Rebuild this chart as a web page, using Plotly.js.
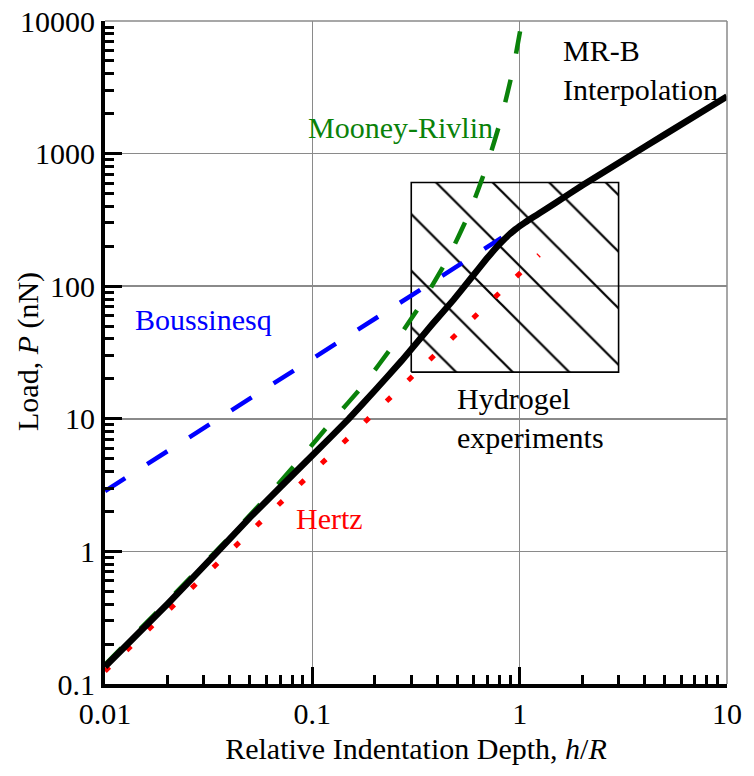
<!DOCTYPE html>
<html>
<head>
<meta charset="utf-8">
<script src="https://cdn.plot.ly/plotly-3.0.1.min.js"></script>
<style>
  html, body { margin: 0; padding: 0; background: #fff; }
  #chart { width: 754px; height: 776px; }
</style>
</head>
<body>
<div id="chart"></div>
<script>
// ---- data ----
// MR-B interpolation (black solid)
const mrbH = [0.01, 0.02, 0.035, 0.05, 0.1, 0.15, 0.2, 0.27, 0.38, 0.48, 0.58, 0.69, 0.75, 0.8, 0.85, 0.9, 0.95, 1.0, 1.05, 1.1, 1.17, 1.25, 1.5, 2.0, 3.4, 5.0, 10];
const mrbP = [0.135, 0.4, 1.0, 1.8, 5.3, 10, 16.3, 27.5, 52, 79, 114, 160, 186, 208, 229, 249, 267, 284, 299, 314, 334, 356, 428, 575, 960, 1390, 2700];
// Mooney-Rivlin (green dashed)
const mrH = [0.01, 0.02, 0.0387, 0.0614, 0.088, 0.125, 0.178, 0.249, 0.34, 0.45, 0.572, 0.693, 0.817, 0.93, 1.025];
const mrP = [0.14, 0.42, 1.22, 2.66, 5.04, 9.68, 18.3, 37.1, 76.4, 162, 358, 806, 1878, 4370, 10000];
// Hertz (red dotted)
const hzH = [0.01, 0.03, 0.1, 0.3, 1.0, 1.24];
const hzP = [0.125, 0.65, 3.95, 20.5, 125, 172];
// Boussinesq (blue dashed)
const bsH = [0.01, 0.1, 0.82];
const bsP = [2.85, 28.5, 232];
// Hydrogel experiments box (h range, P range)
const boxH = [0.3, 3];
const boxP = [22.5, 605];
// ticks
const xTickVals = [0.01, 0.1, 1, 10];
const xTickText = ["0.01", "0.1", "1", "10"];
const yTickVals = [0.1, 1, 10, 100, 1000, 10000];
const yTickText = ["0.1", "1", "10", "100", "1000", "10000"];

const FONT = "Times New Roman";

const traces = [
  {
    x: [boxH[0], boxH[1], boxH[1], boxH[0], boxH[0]],
    y: [boxP[0], boxP[0], boxP[1], boxP[1], boxP[0]],
    mode: "lines", fill: "toself",
    fillcolor: "rgba(0,0,0,0)",
    fillpattern: { shape: "\\", size: 40, solidity: 0.055, fgcolor: "#000", bgcolor: "rgba(255,255,255,0)" },
    line: { color: "#000", width: 1.6 },
    hoverinfo: "skip"
  },
  { x: hzH, y: hzP, mode: "lines", line: { color: "#ff0000", width: 5, dash: "6px,24px" } },
  { x: bsH, y: bsP, mode: "lines", line: { color: "#0000ff", width: 4.5, dash: "24px,26px" } },
  { x: mrH, y: mrP, mode: "lines", line: { color: "#0a820a", width: 4.5, dash: "23px,27px", shape: "spline", smoothing: 0.5 } },
  { x: mrbH, y: mrbP, mode: "lines", line: { color: "#000", width: 6.5, shape: "spline", smoothing: 0.3 } }
];

function px2x(px) { return (px - 105) / 622; }
function py2y(py) { return (684 - py) / 663; }

const axisCommon = {
  type: "log",
  ticks: "inside", ticklen: 17, tickwidth: 3, tickcolor: "#000",
  showline: true, linewidth: 4, linecolor: "#000",
  showgrid: true, gridcolor: "#8a8a8a", gridwidth: 1.5,
  zeroline: false,
  tickfont: { family: FONT, size: 30, color: "#000" },
  minor: { ticks: "inside", ticklen: 9, tickwidth: 3, tickcolor: "#000", showgrid: false, dtick: "D1" },
  tickmode: "array"
};

const layout = {
  width: 754, height: 776,
  margin: { l: 105, r: 27, t: 21, b: 92 },
  paper_bgcolor: "#fff", plot_bgcolor: "#fff",
  showlegend: false,
  font: { family: FONT, size: 30, color: "#000" },
  xaxis: Object.assign({}, axisCommon, {
    range: [-2, 1],
    tickvals: xTickVals, ticktext: xTickText,
    title: { text: "Relative Indentation Depth, <i>h</i>/<i>R</i>", font: { family: FONT, size: 30, color: "#000" }, standoff: 10 }
  }),
  yaxis: Object.assign({}, axisCommon, {
    range: [-1, 4],
    tickvals: yTickVals, ticktext: yTickText
  }),
  shapes: [
    { type: "line", xref: "paper", yref: "paper", x0: 0, x1: 1, y0: 1, y1: 1, line: { color: "#8a8a8a", width: 1.5 } },
    { type: "line", xref: "paper", yref: "paper", x0: 1, x1: 1, y0: 0, y1: 1, line: { color: "#8a8a8a", width: 1.5 } }
  ],
  annotations: [
    { text: "Load, <i>P</i> (nN)", xref: "paper", yref: "paper", x: px2x(28), y: py2y(352), xanchor: "center", yanchor: "middle", textangle: -90, showarrow: false, borderpad: 0, font: { family: FONT, size: 30, color: "#000" } },
    { text: "MR-B<br>Interpolation", xref: "paper", yref: "paper", x: px2x(562), y: py2y(70), xanchor: "left", yanchor: "middle", align: "left", showarrow: false, borderpad: 0, font: { family: FONT, size: 30, color: "#000" } },
    { text: "Mooney-Rivlin", xref: "paper", yref: "paper", x: px2x(400.5), y: py2y(128), xanchor: "center", yanchor: "middle", showarrow: false, borderpad: 0, font: { family: FONT, size: 30, color: "#0a820a" } },
    { text: "Boussinesq", xref: "paper", yref: "paper", x: px2x(203), y: py2y(319), xanchor: "center", yanchor: "middle", showarrow: false, borderpad: 0, font: { family: FONT, size: 30, color: "#0000ff" } },
    { text: "Hertz", xref: "paper", yref: "paper", x: px2x(329), y: py2y(518), xanchor: "center", yanchor: "middle", showarrow: false, borderpad: 0, font: { family: FONT, size: 30, color: "#ff0000" } },
    { text: "Hydrogel<br>experiments", xref: "paper", yref: "paper", x: px2x(456), y: py2y(418), xanchor: "left", yanchor: "middle", align: "left", showarrow: false, borderpad: 0, font: { family: FONT, size: 30, color: "#000" } }
  ]
};

Plotly.newPlot("chart", traces, layout, { staticPlot: true, displayModeBar: false });
</script>
</body>
</html>
